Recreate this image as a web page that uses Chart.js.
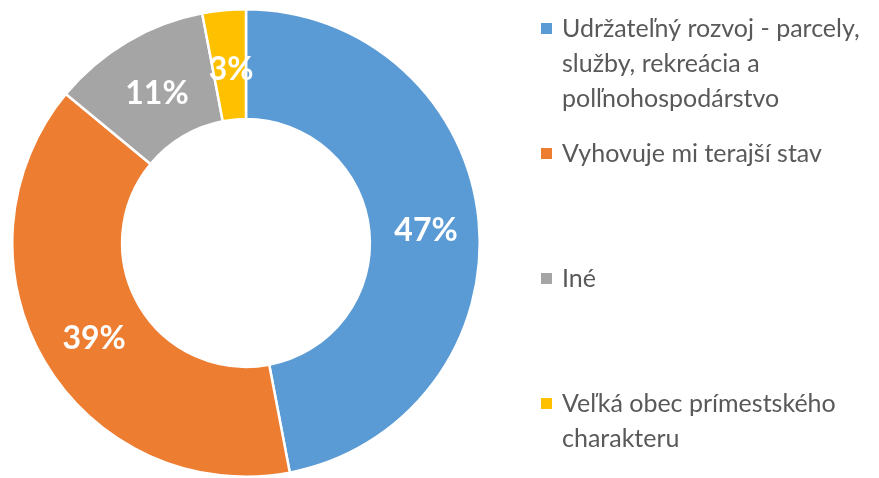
<!DOCTYPE html>
<html>
<head>
<meta charset="utf-8">
<script src="https://cdn.jsdelivr.net/npm/chart.js@4/dist/chart.umd.min.js"></script>
<style>
  html, body { margin: 0; padding: 0; background: #fff; }
  #wrap { position: relative; width: 879px; height: 478px; }
</style>
</head>
<body>
<div id="wrap"><canvas id="chart"></canvas></div>
<script>
// categories (line breaks as in the legend)
const categories = [
    ["Udržateľný rozvoj - parcely,", "služby, rekreácia a", "polľnohospodárstvo"],
    ["Vyhovuje mi terajší stav"],
    ["Iné"],
    ["Veľká obec prímestského", "charakteru"]
];
const values = [47, 39, 11, 3];
const colors = ["#5b9bd5", "#ed7d31", "#a5a5a5", "#ffc000"];

// percent labels inside the ring
const sliceLabels = {
    id: "sliceLabels",
    afterDatasetsDraw(chart) {
        const ctx = chart.ctx;
        const meta = chart.getDatasetMeta(0);
        ctx.save();
        ctx.fillStyle = "#ffffff";
        ctx.font = "bold 32px Lato";
        ctx.textAlign = "center";
        ctx.textBaseline = "middle";
        meta.data.forEach((arc, i) => {
            const p = arc.tooltipPosition();
            ctx.fillText(values[i] + "%", p.x + 2, p.y + 5);
        });
        ctx.restore();
    }
};

// legend on the right
const sideLegend = {
    id: "sideLegend",
    afterDraw(chart) {
        const ctx = chart.ctx;
        const left = 541;
        const firstBaseline = 37;
        const itemGap = 125;
        const lineGap = 35;
        ctx.save();
        ctx.font = "25px Lato";
        ctx.textBaseline = "alphabetic";
        categories.forEach((lines, i) => {
            const base = firstBaseline + i * itemGap;
            ctx.fillStyle = colors[i];
            ctx.fillRect(left, base - 14, 11, 11);
            ctx.fillStyle = "#595959";
            lines.forEach((line, j) => {
                ctx.fillText(line, left + 21, base + j * lineGap);
            });
        });
        ctx.restore();
    }
};

new Chart(document.getElementById("chart"), {
    type: "doughnut",
    data: {
        labels: categories,
        datasets: [{
            data: values,
            backgroundColor: colors,
            borderColor: "#ffffff",
            borderWidth: 2.5
        }]
    },
    options: {
        responsive: true,
        maintainAspectRatio: false,
        animation: false,
        cutout: "53%",
        layout: { padding: { left: 10, top: 8, right: 397, bottom: 0 } },
        plugins: {
            legend: { display: false },
            tooltip: { enabled: false }
        }
    },
    plugins: [sliceLabels, sideLegend]
});
</script>
</body>
</html>
